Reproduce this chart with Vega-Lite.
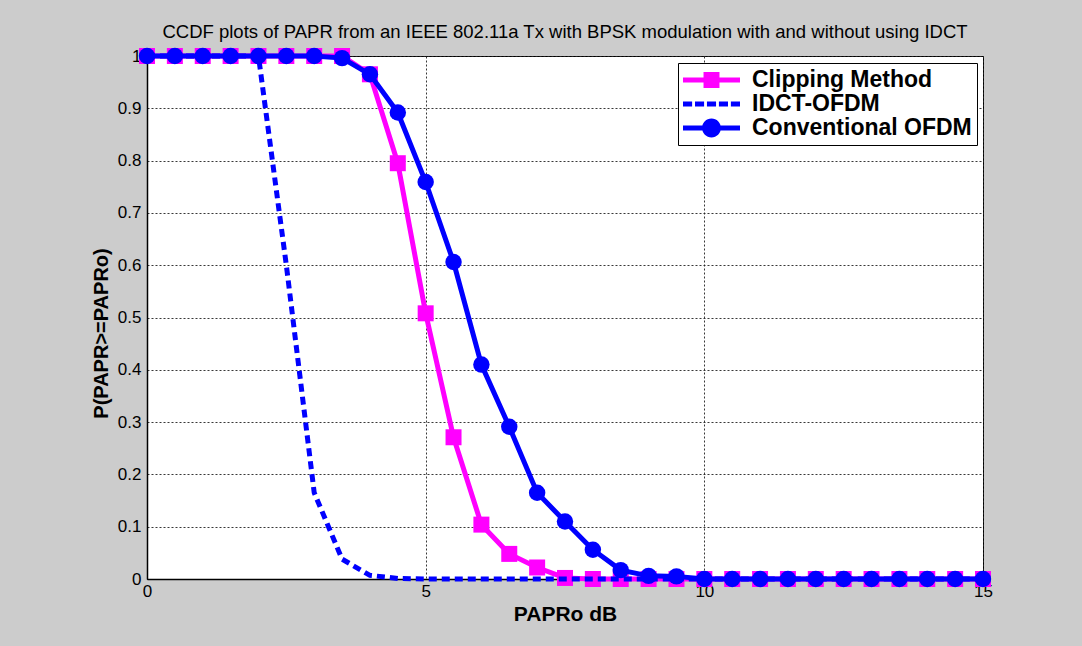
{
  "$schema": "https://vega.github.io/schema/vega-lite/v6.json",
  "autosize": {"type": "none"},
  "width": 836,
  "height": 523,
  "padding": {"left": 147, "top": 56, "right": 99, "bottom": 67},
  "background": "#cccccc",
  "config": {
    "font": "Liberation Sans",
    "view": {"fill": "white", "stroke": "black", "strokeWidth": 1},
    "axis": {
      "labelFont": "Liberation Sans",
      "labelFontSize": 17,
      "labelColor": "black",
      "titleFont": "Liberation Sans",
      "titleFontWeight": "bold",
      "titleColor": "black",
      "domainColor": "black",
      "domainWidth": 1.5,
      "ticks": false,
      "grid": true,
      "gridColor": "#222222",
      "gridDash": [2, 2],
      "gridWidth": 1,
      "gridOpacity": 0.9,
      "labelFlush": false,
      "labelOverlap": false
    }
  },
  "title": {
    "text": "CCDF plots of PAPR from an IEEE 802.11a Tx with BPSK modulation with and without using IDCT",
    "font": "Liberation Sans",
    "fontSize": 18.5,
    "fontWeight": "normal",
    "color": "black",
    "anchor": "middle",
    "offset": 5
  },
  "data": {
    "values": [
      {"series": "Clipping Method", "x": 0, "y": 1},
      {"series": "Clipping Method", "x": 0.5, "y": 1},
      {"series": "Clipping Method", "x": 1, "y": 1},
      {"series": "Clipping Method", "x": 1.5, "y": 1},
      {"series": "Clipping Method", "x": 2, "y": 1},
      {"series": "Clipping Method", "x": 2.5, "y": 1},
      {"series": "Clipping Method", "x": 3, "y": 1},
      {"series": "Clipping Method", "x": 3.5, "y": 1},
      {"series": "Clipping Method", "x": 4, "y": 0.965},
      {"series": "Clipping Method", "x": 4.5, "y": 0.795},
      {"series": "Clipping Method", "x": 5, "y": 0.508},
      {"series": "Clipping Method", "x": 5.5, "y": 0.271},
      {"series": "Clipping Method", "x": 6, "y": 0.104},
      {"series": "Clipping Method", "x": 6.5, "y": 0.048},
      {"series": "Clipping Method", "x": 7, "y": 0.022},
      {"series": "Clipping Method", "x": 7.5, "y": 0.002},
      {"series": "Clipping Method", "x": 8, "y": 0},
      {"series": "Clipping Method", "x": 8.5, "y": 0},
      {"series": "Clipping Method", "x": 9, "y": 0},
      {"series": "Clipping Method", "x": 9.5, "y": 0},
      {"series": "Clipping Method", "x": 10, "y": 0},
      {"series": "Clipping Method", "x": 10.5, "y": 0},
      {"series": "Clipping Method", "x": 11, "y": 0},
      {"series": "Clipping Method", "x": 11.5, "y": 0},
      {"series": "Clipping Method", "x": 12, "y": 0},
      {"series": "Clipping Method", "x": 12.5, "y": 0},
      {"series": "Clipping Method", "x": 13, "y": 0},
      {"series": "Clipping Method", "x": 13.5, "y": 0},
      {"series": "Clipping Method", "x": 14, "y": 0},
      {"series": "Clipping Method", "x": 14.5, "y": 0},
      {"series": "Clipping Method", "x": 15, "y": 0},
      {"series": "IDCT-OFDM", "x": 0, "y": 1},
      {"series": "IDCT-OFDM", "x": 0.5, "y": 1},
      {"series": "IDCT-OFDM", "x": 1, "y": 1},
      {"series": "IDCT-OFDM", "x": 1.5, "y": 1},
      {"series": "IDCT-OFDM", "x": 2, "y": 1},
      {"series": "IDCT-OFDM", "x": 2.5, "y": 0.6},
      {"series": "IDCT-OFDM", "x": 3, "y": 0.165},
      {"series": "IDCT-OFDM", "x": 3.5, "y": 0.038},
      {"series": "IDCT-OFDM", "x": 4, "y": 0.007},
      {"series": "IDCT-OFDM", "x": 4.5, "y": 0.001},
      {"series": "IDCT-OFDM", "x": 5, "y": 0},
      {"series": "IDCT-OFDM", "x": 5.5, "y": 0},
      {"series": "IDCT-OFDM", "x": 6, "y": 0},
      {"series": "IDCT-OFDM", "x": 6.5, "y": 0},
      {"series": "IDCT-OFDM", "x": 7, "y": 0},
      {"series": "IDCT-OFDM", "x": 7.5, "y": 0},
      {"series": "IDCT-OFDM", "x": 8, "y": 0},
      {"series": "IDCT-OFDM", "x": 8.5, "y": 0},
      {"series": "IDCT-OFDM", "x": 9, "y": 0},
      {"series": "IDCT-OFDM", "x": 9.5, "y": 0},
      {"series": "IDCT-OFDM", "x": 10, "y": 0},
      {"series": "IDCT-OFDM", "x": 10.5, "y": 0},
      {"series": "IDCT-OFDM", "x": 11, "y": 0},
      {"series": "IDCT-OFDM", "x": 11.5, "y": 0},
      {"series": "IDCT-OFDM", "x": 12, "y": 0},
      {"series": "IDCT-OFDM", "x": 12.5, "y": 0},
      {"series": "IDCT-OFDM", "x": 13, "y": 0},
      {"series": "IDCT-OFDM", "x": 13.5, "y": 0},
      {"series": "IDCT-OFDM", "x": 14, "y": 0},
      {"series": "IDCT-OFDM", "x": 14.5, "y": 0},
      {"series": "IDCT-OFDM", "x": 15, "y": 0},
      {"series": "Conventional OFDM", "x": 0, "y": 1},
      {"series": "Conventional OFDM", "x": 0.5, "y": 1},
      {"series": "Conventional OFDM", "x": 1, "y": 1},
      {"series": "Conventional OFDM", "x": 1.5, "y": 1},
      {"series": "Conventional OFDM", "x": 2, "y": 1},
      {"series": "Conventional OFDM", "x": 2.5, "y": 1},
      {"series": "Conventional OFDM", "x": 3, "y": 1},
      {"series": "Conventional OFDM", "x": 3.5, "y": 0.996},
      {"series": "Conventional OFDM", "x": 4, "y": 0.965},
      {"series": "Conventional OFDM", "x": 4.5, "y": 0.892},
      {"series": "Conventional OFDM", "x": 5, "y": 0.759},
      {"series": "Conventional OFDM", "x": 5.5, "y": 0.606},
      {"series": "Conventional OFDM", "x": 6, "y": 0.41},
      {"series": "Conventional OFDM", "x": 6.5, "y": 0.291},
      {"series": "Conventional OFDM", "x": 7, "y": 0.165},
      {"series": "Conventional OFDM", "x": 7.5, "y": 0.11},
      {"series": "Conventional OFDM", "x": 8, "y": 0.056},
      {"series": "Conventional OFDM", "x": 8.5, "y": 0.017},
      {"series": "Conventional OFDM", "x": 9, "y": 0.006},
      {"series": "Conventional OFDM", "x": 9.5, "y": 0.005},
      {"series": "Conventional OFDM", "x": 10, "y": 0},
      {"series": "Conventional OFDM", "x": 10.5, "y": 0},
      {"series": "Conventional OFDM", "x": 11, "y": 0},
      {"series": "Conventional OFDM", "x": 11.5, "y": 0},
      {"series": "Conventional OFDM", "x": 12, "y": 0},
      {"series": "Conventional OFDM", "x": 12.5, "y": 0},
      {"series": "Conventional OFDM", "x": 13, "y": 0},
      {"series": "Conventional OFDM", "x": 13.5, "y": 0},
      {"series": "Conventional OFDM", "x": 14, "y": 0},
      {"series": "Conventional OFDM", "x": 14.5, "y": 0},
      {"series": "Conventional OFDM", "x": 15, "y": 0}
    ]
  },
  "encoding": {
    "x": {
      "field": "x",
      "type": "quantitative",
      "scale": {"domain": [0, 15], "nice": false, "zero": false},
      "axis": {
        "values": [0, 5, 10, 15],
        "format": "~g",
        "title": "PAPRo dB",
        "titleFontSize": 21,
        "labelPadding": 4,
        "titlePadding": 4
      }
    },
    "y": {
      "field": "y",
      "type": "quantitative",
      "scale": {"domain": [0, 1], "nice": false, "zero": false},
      "axis": {
        "values": [0, 0.1, 0.2, 0.3, 0.4, 0.5, 0.6, 0.7, 0.8, 0.9, 1],
        "format": "~g",
        "title": "P(PAPR>=PAPRo)",
        "titleFontSize": 20,
        "titleY": 277,
        "titleAlign": "center",
        "labelPadding": 6,
        "titlePadding": 6
      }
    }
  },
  "layer": [
    {
      "transform": [{"filter": "datum.series === 'Clipping Method'"}],
      "mark": {"type": "line", "color": "#ff00ff", "strokeWidth": 5, "clip": false}
    },
    {
      "transform": [{"filter": "datum.series === 'Clipping Method'"}],
      "mark": {"type": "point", "shape": "square", "filled": true, "color": "#ff00ff", "opacity": 1, "size": 256, "clip": false}
    },
    {
      "transform": [{"filter": "datum.series === 'IDCT-OFDM'"}],
      "mark": {"type": "line", "color": "#0000ff", "strokeWidth": 5, "strokeDash": [8, 5], "strokeCap": "butt", "clip": false}
    },
    {
      "transform": [{"filter": "datum.series === 'Conventional OFDM'"}],
      "mark": {"type": "line", "color": "#0000ff", "strokeWidth": 5, "clip": false}
    },
    {
      "transform": [{"filter": "datum.series === 'Conventional OFDM'"}],
      "mark": {"type": "point", "shape": "circle", "filled": true, "color": "#0000ff", "opacity": 1, "size": 270, "clip": false}
    },
    {
      "mark": {"type": "point", "filled": true, "opacity": 0, "size": 3249, "clip": false},
      "encoding": {
        "color": {
          "field": "series",
          "type": "nominal",
          "scale": {"domain": ["Clipping Method", "IDCT-OFDM", "Conventional OFDM"], "range": ["#ff00ff", "#0000ff", "#0000ff"]},
          "legend": {
            "title": null,
            "orient": "none",
            "legendX": 531,
            "legendY": 7,
            "symbolSize": 3249,
            "symbolOpacity": 1,
            "symbolStrokeWidth": 0,
            "clipHeight": 24,
            "rowPadding": 0,
            "padding": 5,
            "labelOffset": 12,
            "labelFont": "Liberation Sans",
            "labelFontSize": 23,
            "labelFontWeight": "bold",
            "labelColor": "black",
            "labelLimit": 400,
            "fillColor": "white",
            "strokeColor": "black"
          }
        },
        "shape": {
          "field": "series",
          "type": "nominal",
          "scale": {
            "domain": ["Clipping Method", "IDCT-OFDM", "Conventional OFDM"],
            "range": [
              "M-1,-0.09H1V0.09H-1Z M-0.28,-0.28H0.28V0.28H-0.28Z",
              "M-1,-0.09H-0.68V0.09H-1Z M-0.58,-0.09H-0.26V0.09H-0.58Z M-0.16,-0.09H0.16V0.09H-0.16Z M0.26,-0.09H0.58V0.09H0.26Z M0.68,-0.09H1V0.09H0.68Z",
              "M-1,-0.09H1V0.09H-1Z M-0.33,0A0.33,0.33,0,1,1,0.33,0A0.33,0.33,0,1,1,-0.33,0Z"
            ]
          },
          "legend": {
            "title": null,
            "orient": "none",
            "legendX": 531,
            "legendY": 7,
            "symbolSize": 3249,
            "symbolOpacity": 1,
            "symbolStrokeWidth": 0,
            "clipHeight": 24,
            "rowPadding": 0,
            "padding": 5,
            "labelOffset": 12,
            "labelFont": "Liberation Sans",
            "labelFontSize": 23,
            "labelFontWeight": "bold",
            "labelColor": "black",
            "labelLimit": 400,
            "fillColor": "white",
            "strokeColor": "black"
          }
        }
      }
    }
  ]
}
